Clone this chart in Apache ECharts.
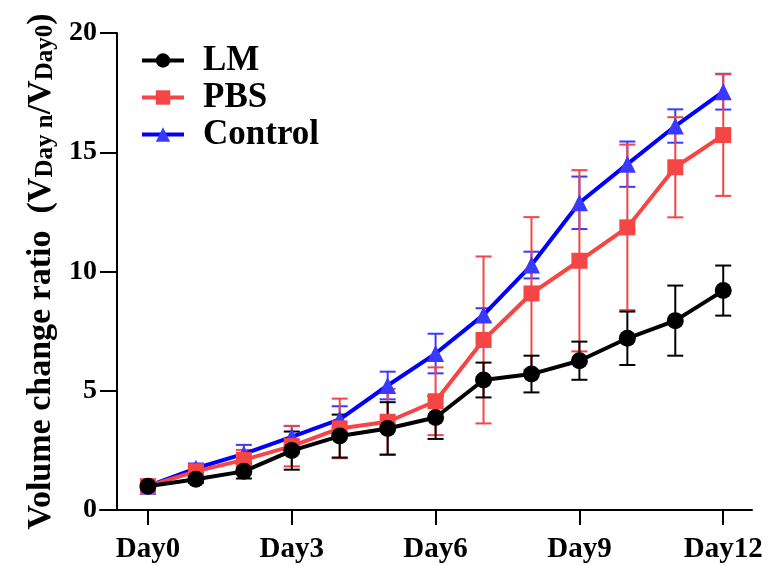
<!DOCTYPE html>
<html>
<head>
<meta charset="utf-8">
<script src="https://cdn.jsdelivr.net/npm/echarts@6/dist/echarts.min.js"></script>
<style>
  html, body { margin: 0; padding: 0; background: #fff; }
  #chart { width: 767px; height: 566px; }
</style>
</head>
<body>
<div id="chart"></div>
<script>
const days = [0, 1, 2, 3, 4, 5, 6, 7, 8, 9, 10, 11, 12];
const tickDays = [0, 3, 6, 9, 12];
const yTicks = [0, 5, 10, 15, 20];

const lmMean = [1.0, 1.29, 1.62, 2.49, 3.1, 3.42, 3.88, 5.45, 5.7, 6.26, 7.2, 7.94, 9.2];
const lmSd = [0.08, 0.15, 0.3, 0.8, 0.9, 1.1, 0.9, 0.73, 0.77, 0.8, 1.12, 1.47, 1.05];
const pbsMean = [1.0, 1.62, 2.1, 2.68, 3.42, 3.7, 4.56, 7.13, 9.08, 10.45, 11.85, 14.37, 15.72];
const pbsSd = [0.08, 0.2, 0.42, 0.85, 1.25, 1.38, 1.42, 3.5, 3.2, 3.8, 3.47, 2.1, 2.55];
const ctrlMean = [1.0, 1.75, 2.35, 3.07, 3.8, 5.22, 6.56, 8.18, 10.27, 12.88, 14.5, 16.1, 17.54];
const ctrlSd = [0.06, 0.2, 0.38, 0.45, 0.55, 0.58, 0.83, 0.28, 0.56, 1.1, 0.95, 0.7, 0.75];

const FONT = '"Liberation Serif", "Times New Roman", serif';

const chart = echarts.init(document.getElementById("chart"), null, { renderer: "canvas" });

const pts = (mean) => days.map((d, i) => [d, mean[i]]);
const bars = (mean, sd) => days.map((d, i) => [d, mean[i] - sd[i], mean[i] + sd[i]]);

// error bar with caps
const errorBar = (name, color, data) => ({
  type: "custom",
  name: name + "_err",
  data,
  z: 1,
  silent: true,
  renderItem: (params, api) => {
    const lo = api.coord([api.value(0), api.value(1)]);
    const hi = api.coord([api.value(0), api.value(2)]);
    const w = 8;
    const style = { stroke: color, lineWidth: 2 };
    return {
      type: "group",
      children: [
        { type: "line", shape: { x1: hi[0], y1: hi[1], x2: lo[0], y2: lo[1] }, style },
        { type: "line", shape: { x1: hi[0] - w, y1: hi[1], x2: hi[0] + w, y2: hi[1] }, style },
        { type: "line", shape: { x1: lo[0] - w, y1: lo[1], x2: lo[0] + w, y2: lo[1] }, style },
      ],
    };
  },
});

const lineSeries = (name, color, markColor, symbol, size, data, z) => ({
  type: "line",
  name,
  data,
  z,
  symbol,
  symbolSize: size,
  showAllSymbol: true,
  lineStyle: { color, width: 4 },
  itemStyle: { color: markColor, opacity: 1 },
  emphasis: { disabled: true },
});

const option = {
  animation: false,
  backgroundColor: "#fff",
  grid: { left: 100, right: 15, top: 33, bottom: 56 },
  legend: {
    orient: "vertical",
    left: 135,
    top: 38,
    itemWidth: 42,
    itemHeight: 18,
    itemGap: 2,
    data: ["LM", "PBS", "Control"],
    lineStyle: { width: 4 },
    textStyle: { fontFamily: FONT, fontWeight: "bold", fontSize: 35, color: "#000", padding: [0, 0, 0, 14] },
  },
  xAxis: {
    type: "value",
    min: -1,
    max: 12.6,
    splitLine: { show: false },
    axisLine: { onZero: false, lineStyle: { color: "#000", width: 2 } },
    axisTick: { customValues: tickDays, length: 15, lineStyle: { color: "#000", width: 2 } },
    axisLabel: {
      customValues: tickDays,
      formatter: (v) => "Day" + v,
      margin: 25,
      fontFamily: FONT,
      fontWeight: "bold",
      fontSize: 29,
      color: "#000",
    },
  },
  yAxis: {
    type: "value",
    min: 0,
    max: 20,
    interval: 5,
    offset: -17,
    splitLine: { show: false },
    axisLine: { show: true, onZero: false, lineStyle: { color: "#000", width: 2 } },
    axisTick: { show: true, length: 17, lineStyle: { color: "#000", width: 2 } },
    axisLabel: {
      customValues: yTicks,
      margin: 20,
      fontFamily: FONT,
      fontWeight: "bold",
      fontSize: 28,
      color: "#000",
    },
    name: "{a|Volume change ratio  (V}{s|Day n}{a|/V}{s|Day0}{a|)}",
    nameLocation: "middle",
    nameGap: 57,
    nameTextStyle: {
      rich: {
        a: { fontFamily: FONT, fontWeight: "bold", fontSize: 34, lineHeight: 34, verticalAlign: "top", color: "#000" },
        s: { fontFamily: FONT, fontWeight: "bold", fontSize: 25, lineHeight: 25, verticalAlign: "bottom", padding: [14, 0, 0, 0], color: "#000" },
      },
    },
  },
  series: [
    errorBar("Control", "#3a3aff", bars(ctrlMean, ctrlSd)),
    errorBar("PBS", "#f54545", bars(pbsMean, pbsSd)),
    errorBar("LM", "#000000", bars(lmMean, lmSd)),
    lineSeries("Control", "#0000ff", "#3a3aff", "triangle", 17, pts(ctrlMean), 3),
    lineSeries("PBS", "#f54545", "#f54545", "rect", 16, pts(pbsMean), 4),
    lineSeries("LM", "#000000", "#000000", "circle", 17, pts(lmMean), 5),
  ],
};

chart.setOption(option);
</script>
</body>
</html>
